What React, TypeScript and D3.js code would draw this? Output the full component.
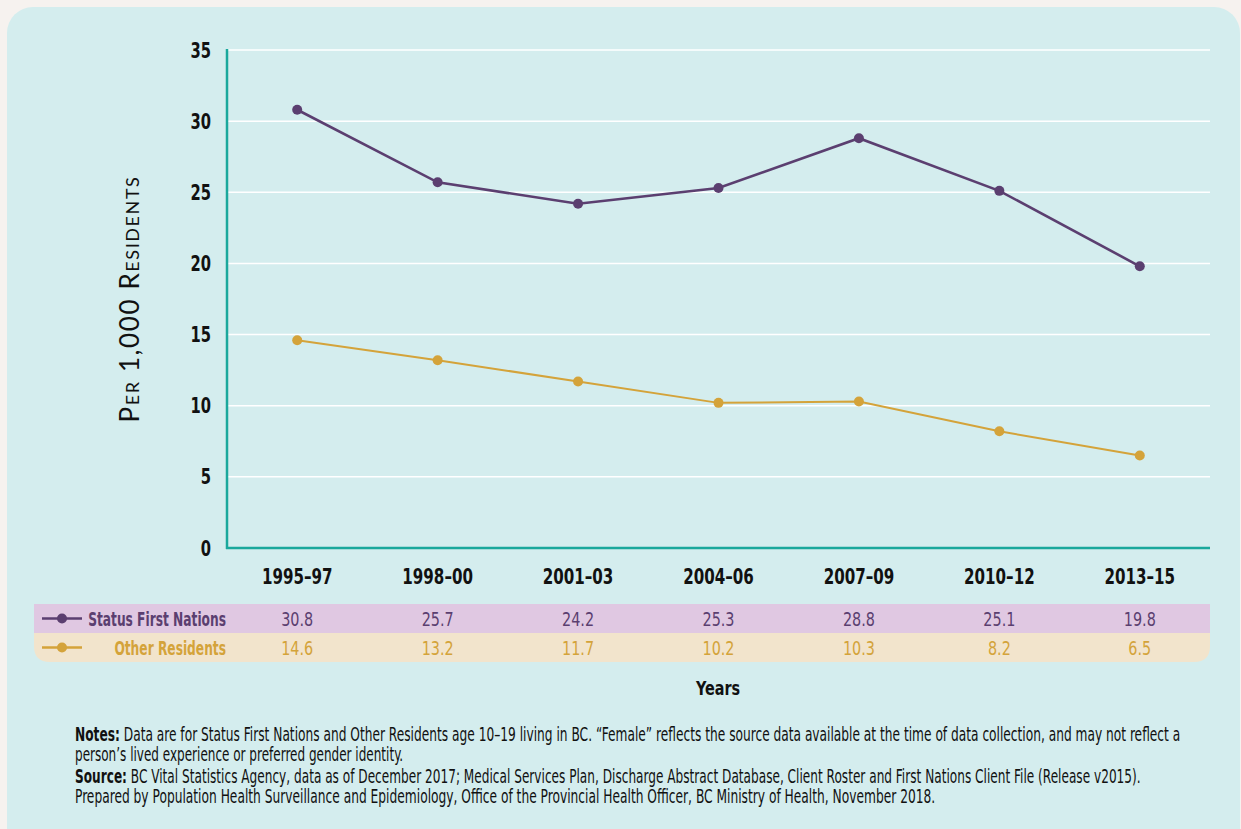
import React, { useLayoutEffect, useRef, useState } from "react";
import * as d3 from "d3";

const categories = ["1995–97", "1998–00", "2001–03", "2004–06", "2007–09", "2010–12", "2013–15"];
const statusFirstNations = [30.8, 25.7, 24.2, 25.3, 28.8, 25.1, 19.8];
const otherResidents = [14.6, 13.2, 11.7, 10.2, 10.3, 8.2, 6.5];
const yTicks = [0, 5, 10, 15, 20, 25, 30, 35];
const seriesNames = ["Status First Nations", "Other Residents"];

const W = 1241, H = 829;
const PURPLE = "#5b3f70";
const GOLD = "#d4a33a";
const TEAL = "#1aa89c";
const COND = "'DejaVu Sans Condensed', 'DejaVu Sans', sans-serif";

type TProps = {
  x: number; y: number; sx: number; anchor?: "start" | "middle" | "end";
  size: number; bold?: boolean; fill?: string; children: React.ReactNode;
};
function T({ x, y, sx, anchor = "start", size, bold, fill = "#111", children }: TProps) {
  return (
    <text
      transform={`translate(${x},${y}) scale(${sx},1)`}
      textAnchor={anchor}
      dy="0.36em"
      fontFamily={COND}
      fontWeight={bold ? "bold" : "normal"}
      fontSize={size}
      fill={fill}
    >
      {children}
    </text>
  );
}

function Fit({ x, y, width, size, children }: { x: number; y: number; width: number; size: number; children: React.ReactNode }) {
  const ref = useRef<SVGTextElement>(null);
  const [sx, setSx] = useState(0.8);
  useLayoutEffect(() => {
    if (ref.current) {
      const len = ref.current.getComputedTextLength();
      if (len > 0) setSx(width / len);
    }
  }, [width]);
  return (
    <g transform={`translate(${x},${y}) scale(${sx},1)`}>
      <text ref={ref} x={0} y={0} fontFamily={COND} fontSize={size} fill="#111">
        {children}
      </text>
    </g>
  );
}

export default function App() {
  const x = d3.scaleBand<string>().domain(categories).range([227, 1210]).padding(0);
  const y = d3.scaleLinear().domain([0, 35]).range([548, 50]);
  const cx = (c: string) => (x(c) ?? 0) + x.bandwidth() / 2;
  const line = d3.line<number>().x((_, i) => cx(categories[i])).y((d) => y(d));
  const series = [
    { name: seriesNames[0], values: statusFirstNations, color: PURPLE, width: 2.6, bg: "#e0c8e2", rowY: 604 },
    { name: seriesNames[1], values: otherResidents, color: GOLD, width: 2, bg: "#f2e4cc", rowY: 633 },
  ];
  const rowH = 29;
  const tl = 34, tr = 1210, r = 16;
  const bottomY = 633 + rowH;
  const beigePath = `M${tl},633 H${tr} V${bottomY - r} Q${tr},${bottomY} ${tr - r},${bottomY} H${tl + r} Q${tl},${bottomY} ${tl},${bottomY - r} Z`;

  return (
    <svg width={W} height={H} style={{ position: "absolute", left: 0, top: 0 }}>
      <rect x={0} y={0} width={W} height={H} fill="#f6f2ef" />
      <rect x={7} y={7} width={1233} height={850} rx={26} fill="#d4edee" />
      {yTicks.filter((t) => t > 0).map((t) => (
        <line key={t} x1={227} x2={1210} y1={y(t)} y2={y(t)} stroke="#ffffff" strokeWidth={1.5} />
      ))}
      <line x1={227} x2={227} y1={49} y2={549} stroke={TEAL} strokeWidth={2.5} />
      <line x1={226} x2={1210} y1={548} y2={548} stroke={TEAL} strokeWidth={2.5} />
      {yTicks.map((t) => (
        <T key={t} x={211} y={y(t)} sx={0.78} anchor="end" size={21} bold>{t}</T>
      ))}
      {categories.map((c) => (
        <T key={c} x={cx(c)} y={576} sx={0.8} anchor="middle" size={21} bold>{c}</T>
      ))}
      <text
        transform="translate(130,299) rotate(-90)"
        textAnchor="middle"
        dy="0.36em"
        fontFamily="'Lato', 'Open Sans', sans-serif"
        fontSize={26}
        letterSpacing={1.6}
        style={{ fontVariant: "small-caps" }}
        fill="#111"
      >
        Per 1,000 Residents
      </text>
      {series.map((s) => (
        <g key={s.name}>
          <path d={line(s.values) ?? ""} fill="none" stroke={s.color} strokeWidth={s.width} />
          {s.values.map((v, i) => (
            <circle key={i} cx={cx(categories[i])} cy={y(v)} r={5} fill={s.color} />
          ))}
        </g>
      ))}
      <rect x={tl} y={604} width={tr - tl} height={rowH} fill={series[0].bg} />
      <path d={beigePath} fill={series[1].bg} />
      {series.map((s) => {
        const my = s.rowY + rowH / 2;
        return (
          <g key={s.name}>
            <line x1={42} x2={82} y1={my} y2={my} stroke={s.color} strokeWidth={2.5} />
            <circle cx={62} cy={my} r={5} fill={s.color} />
            <T x={226} y={my} sx={0.68} anchor="end" size={20} bold fill={s.color}>{s.name}</T>
            {s.values.map((v, i) => (
              <T key={i} x={cx(categories[i])} y={my} sx={0.8} anchor="middle" size={20} fill={s.color}>
                {v.toFixed(1)}
              </T>
            ))}
          </g>
        );
      })}
      <T x={718} y={688} sx={0.8} anchor="middle" size={20} bold>Years</T>
      <Fit x={75} y={741} width={1105} size={19}>
        <tspan fontWeight="bold">Notes:</tspan> Data are for Status First Nations and Other Residents age 10–19 living in BC. “Female” reflects the source data available at the time of data collection, and may not reflect a
      </Fit>
      <Fit x={75} y={761} width={328} size={19}>person’s lived experience or preferred gender identity.</Fit>
      <Fit x={75} y={783} width={1065} size={19}>
        <tspan fontWeight="bold">Source:</tspan> BC Vital Statistics Agency, data as of December 2017; Medical Services Plan, Discharge Abstract Database, Client Roster and First Nations Client File (Release v2015).
      </Fit>
      <Fit x={75} y={803} width={860} size={19}>Prepared by Population Health Surveillance and Epidemiology, Office of the Provincial Health Officer, BC Ministry of Health, November 2018.</Fit>
    </svg>
  );
}
